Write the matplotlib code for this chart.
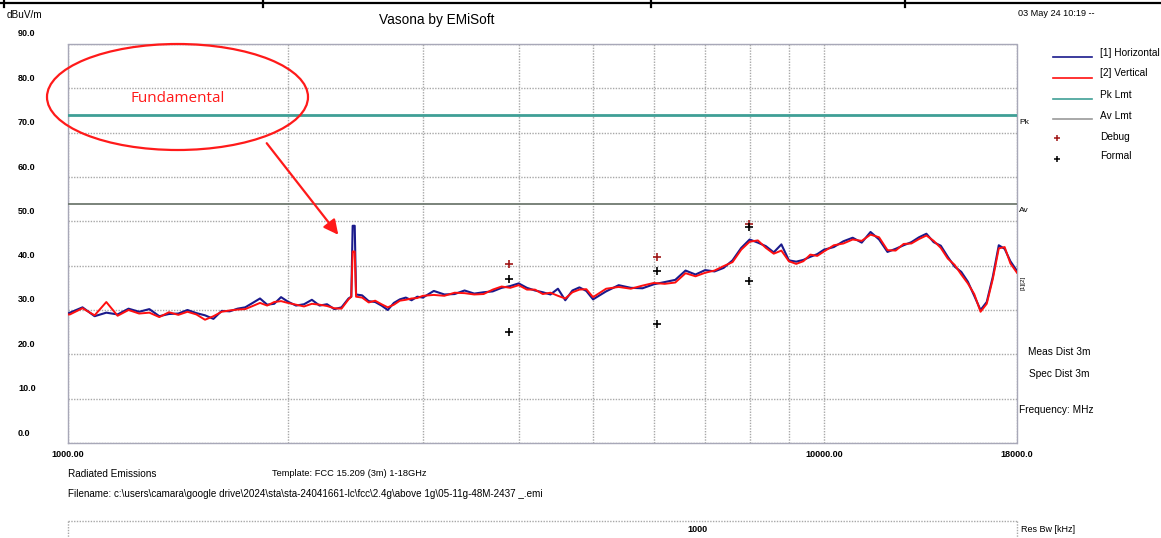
import matplotlib
matplotlib.use("Agg")
import matplotlib.pyplot as plt
import matplotlib.transforms as mtransforms
from matplotlib.patches import Ellipse, FancyArrowPatch
from matplotlib.lines import Line2D
from matplotlib.ticker import FixedLocator, FixedFormatter, NullFormatter

plt.rcParams['font.family'] = ['Liberation Sans Narrow', 'Liberation Sans', 'DejaVu Sans']

# ---- data (MHz, dBuV/m) ----
freq = [1034, 1040, 1080, 1120, 1160, 1200, 1240, 1280, 1320, 1360, 1400, 1440, 1480,
        1520, 1560, 1600, 1640, 1680, 1720, 1760, 1800, 1840, 1880, 1920, 1960, 2000,
        2050, 2100, 2150, 2200, 2250, 2300, 2350, 2400, 2420, 2430, 2437, 2445, 2455,
        2500, 2550, 2600, 2650, 2700, 2750, 2800, 2850, 2900, 2950, 3000,
        3100, 3200, 3300, 3400, 3500, 3600, 3700, 3800, 3900, 4000,
        4100, 4200, 4300, 4400, 4500, 4600, 4700, 4800, 4900, 5000,
        5200, 5400, 5600, 5800, 6000, 6200, 6400, 6600, 6800, 7000,
        7200, 7400, 7600, 7800, 8000, 8200, 8400, 8600, 8800, 9000,
        9200, 9400, 9600, 9800, 10000,
        10300, 10600, 10900, 11200, 11500, 11800, 12100, 12400, 12700, 13000,
        13300, 13600, 13900, 14200, 14500, 14800, 15100, 15400, 15700, 16000,
        16300, 16600, 16900, 17200, 17500, 17850]

horizontal = [29.2, 29.4, 30.6, 28.6, 29.4, 29.0, 30.3, 29.6, 30.2, 28.6, 29.1, 29.2, 30.0,
              29.3, 28.8, 28.0, 29.8, 29.7, 30.3, 30.6, 31.6, 32.6, 31.2, 31.4, 32.9, 31.9,
              31.0, 31.3, 32.3, 31.0, 31.3, 30.2, 30.6, 32.6, 33.0, 49.0, 49.0, 49.0, 33.5,
              33.3, 32.0, 31.8, 31.0, 30.0, 31.6, 32.4, 32.8, 32.2, 33.0, 32.8,
              34.3, 33.5, 33.6, 34.4, 33.7, 34.0, 34.2, 35.0, 35.4, 36.0,
              35.0, 34.4, 34.0, 33.5, 34.8, 32.2, 34.4, 35.1, 34.3, 32.4,
              34.2, 35.6, 35.0, 34.9, 35.8, 36.3, 36.8, 38.9, 38.0, 39.0,
              38.7, 39.5, 41.2, 44.0, 45.9, 45.2, 44.4, 43.0, 44.8, 41.2,
              40.9, 41.3, 42.0, 42.6, 43.6,
              44.2, 45.5, 46.3, 45.2, 47.6, 45.9, 43.1, 43.8, 44.6, 45.3,
              46.4, 47.2, 45.3, 44.5, 42.0, 39.8, 38.6, 36.4, 33.2, 30.0,
              31.8, 37.5, 44.6, 43.8, 41.0, 38.8]

vertical = [29.0, 29.0, 30.4, 28.8, 31.8, 28.7, 30.0, 29.2, 29.4, 28.4, 29.5, 28.9, 29.6,
            29.0, 27.8, 28.6, 29.6, 29.9, 30.1, 30.2, 30.9, 31.6, 31.0, 31.8, 32.0, 31.6,
            31.2, 30.8, 31.4, 31.2, 30.9, 30.4, 30.3, 32.4, 33.0, 43.2, 43.2, 43.2, 33.0,
            32.8, 31.7, 32.1, 31.3, 30.6, 31.2, 32.1, 32.3, 32.6, 32.7, 33.2,
            33.4, 33.2, 33.9, 33.8, 33.5, 33.6, 34.6, 35.3, 35.0, 35.6,
            34.6, 34.6, 33.6, 33.9, 33.2, 32.6, 34.0, 34.6, 34.7, 32.9,
            34.8, 35.2, 34.8, 35.5, 36.1, 35.9, 36.2, 38.3, 37.6, 38.4,
            38.9, 39.9, 40.8, 43.6, 45.4, 45.7, 44.0, 42.7, 43.4, 41.0,
            40.4, 41.0, 42.5, 42.2, 43.2,
            44.6, 45.0, 45.9, 45.6, 47.0, 46.4, 43.5, 43.4, 44.9, 45.0,
            46.0, 46.8, 45.6, 44.0, 41.6, 40.2, 38.0, 36.0, 33.6, 29.6,
            31.4, 37.0, 43.9, 44.2, 40.5, 38.4]

pk_limit = 74.0
av_limit = 54.0

debug_freq = [3885, 6058, 7984]
debug_level = [40.3, 42.0, 49.4]
formal_freq = [3885, 3885, 6058, 6058, 7984, 7984]
formal_level = [36.9, 25.1, 38.8, 26.8, 48.8, 36.6]

x_lo, x_hi = 1034, 17850
x_tick_labels = ['1000.00', '10000.00', '18000.0']
grid_freqs = [2000, 3000, 4000, 5000, 6000, 7000, 8000, 9000]
y_ticks = [0, 10, 20, 30, 40, 50, 60, 70, 80, 90]
y_tick_labels = ['0.0', '10.0', '20.0', '30.0', '40.0', '50.0', '60.0', '70.0', '80.0', '90.0']

W, H = 1161, 538
def fx(x):
    return x / W
def fy(y):
    return 1 - y / H

fig = plt.figure(figsize=(W / 100, H / 100), dpi=100)
ax = fig.add_axes([fx(68), fy(443), (1017 - 68) / W, (443 - 44) / H])
ax.set_xscale('log')
ax.set_xlim(x_lo, x_hi)
ax.set_ylim(0, 90)

gridc = '#a8a8a8'
ax.xaxis.set_major_locator(FixedLocator([x_lo, 10000, x_hi]))
ax.xaxis.set_major_formatter(FixedFormatter(x_tick_labels))
ax.xaxis.set_minor_locator(FixedLocator(grid_freqs))
ax.xaxis.set_minor_formatter(NullFormatter())
ax.set_yticks(y_ticks)
ax.tick_params(axis='y', labelleft=False)
ax.tick_params(which='both', length=0)
ax.tick_params(axis='x', pad=5, labelsize=6.5)
for lab in ax.get_xticklabels():
    lab.set_fontweight('bold')
ax.grid(True, which='both', axis='x', color=gridc, ls=(0, (1, 1)), lw=1)
ax.grid(True, which='major', axis='y', color=gridc, ls=(0, (1, 1)), lw=1)
for s in ax.spines.values():
    s.set_color('#a8a8b8')
    s.set_linestyle((0, (1, 1)))
    s.set_linewidth(1)

# y labels sit about 10px above their gridlines
shift = mtransforms.ScaledTranslation(0, 0.10, fig.dpi_scale_trans)
for v, lab in zip(y_ticks, y_tick_labels):
    ax.text(-50 / 949, v, lab, transform=ax.get_yaxis_transform() + shift,
            ha='left', va='center', fontsize=6.5, fontweight='bold')

ax.axhline(pk_limit, color='#3f9f96', lw=2, zorder=3)
ax.axhline(av_limit, color='#6f7a70', lw=1.3, zorder=3)

ax.plot(freq, horizontal, color='#1a1a8c', lw=1.5, zorder=4)
ax.plot(freq, vertical, color='#ff0f0f', lw=1.4, zorder=5)

ax.plot(debug_freq, debug_level, ls='none', marker='+', ms=6, mew=1.2, color='#a01818', zorder=6)
ax.plot(formal_freq, formal_level, ls='none', marker='+', ms=6, mew=1.2, color='black', zorder=6)

# header
fig.add_artist(Line2D([0, 1], [fy(2.5), fy(2.5)], transform=fig.transFigure, color='black', lw=1.6))
for xs in [4, 263, 651, 905]:
    fig.add_artist(Line2D([fx(xs), fx(xs)], [fy(0), fy(7)], transform=fig.transFigure, color='black', lw=1.6))
fig.text(fx(7), fy(15), 'dBuV/m', fontsize=7.2, ha='left', va='center')
fig.text(fx(437), fy(20), 'Vasona by EMiSoft', fontsize=9.8, ha='center', va='center')
fig.text(fx(1018), fy(14), '03 May 24 10:19 --', fontsize=6.6, ha='left', va='center')

# legend
leg = [('[1] Horizontal', '#1a1a8c', 57, 53),
       ('[2] Vertical', '#ff0f0f', 78, 73),
       ('Pk Lmt', '#3f9f96', 99, 95),
       ('Av Lmt', '#9a9a9a', 119, 116)]
for name, c, ly, ty in leg:
    fig.add_artist(Line2D([fx(1053), fx(1092)], [fy(ly), fy(ly)], transform=fig.transFigure, color=c, lw=1.2))
    fig.text(fx(1100), fy(ty), name, fontsize=7.3, ha='left', va='center')
fig.add_artist(Line2D([fx(1057)], [fy(138)], transform=fig.transFigure, marker='+', ms=5, mew=1.1, color='#a01818'))
fig.text(fx(1100), fy(137), 'Debug', fontsize=7.3, ha='left', va='center')
fig.add_artist(Line2D([fx(1057)], [fy(159)], transform=fig.transFigure, marker='+', ms=5, mew=1.1, color='black'))
fig.text(fx(1100), fy(156), 'Formal', fontsize=7.3, ha='left', va='center')

# right side notes
fig.text(fx(1019), fy(123), 'Pk', fontsize=6, ha='left', va='center')
fig.text(fx(1019), fy(211), 'Av', fontsize=6, ha='left', va='center')
fig.text(fx(1021), fy(283), '[1][2]', fontsize=4.5, rotation=90, ha='left', va='center')
fig.text(fx(1028), fy(352), 'Meas Dist 3m', fontsize=7.3, ha='left', va='center')
fig.text(fx(1029), fy(374), 'Spec Dist 3m', fontsize=7.3, ha='left', va='center')
fig.text(fx(1019), fy(410), 'Frequency: MHz', fontsize=7.3, ha='left', va='center')

# footer
fig.text(fx(68), fy(474), 'Radiated Emissions', fontsize=7.2, ha='left', va='center')
fig.text(fx(272), fy(474), 'Template: FCC 15.209 (3m) 1-18GHz', fontsize=6.7, ha='left', va='center')
fig.text(fx(68), fy(494),
         r'Filename: c:\users\camara\google drive\2024\sta\sta-24041661-lc\fcc\2.4g\above 1g\05-11g-48M-2437 _.emi',
         fontsize=7.1, ha='left', va='center')
fig.add_artist(Line2D([fx(68), fx(1017)], [fy(521), fy(521)], transform=fig.transFigure,
                      color=gridc, ls=(0, (1, 1)), lw=1))
for xs in [68, 1017]:
    fig.add_artist(Line2D([fx(xs), fx(xs)], [fy(521), fy(538)], transform=fig.transFigure,
                          color=gridc, ls=(0, (1, 1)), lw=1))
fig.text(fx(697), fy(529), '1000', fontsize=6.5, fontweight='bold', ha='center', va='center')
fig.text(fx(1021), fy(529), 'Res Bw [kHz]', fontsize=6.5, ha='left', va='center')

# annotation
fig.add_artist(Ellipse((fx(177.5), fy(97)), 261 / W, 106 / H, transform=fig.transFigure,
                       fill=False, edgecolor='#ff1a1a', lw=1.6))
fig.text(fx(177.5), fy(98), 'Fundamental', fontsize=11, color='#ff1a1a', ha='center', va='center',
         family=['Open Sans', 'DejaVu Sans'])
fig.add_artist(FancyArrowPatch((fx(265), fy(141)), (fx(340), fy(237)), transform=fig.transFigure,
                               arrowstyle='-|>', mutation_scale=22, color='#ff1a1a', lw=1.6))

fig.savefig('out.png', dpi=100)
